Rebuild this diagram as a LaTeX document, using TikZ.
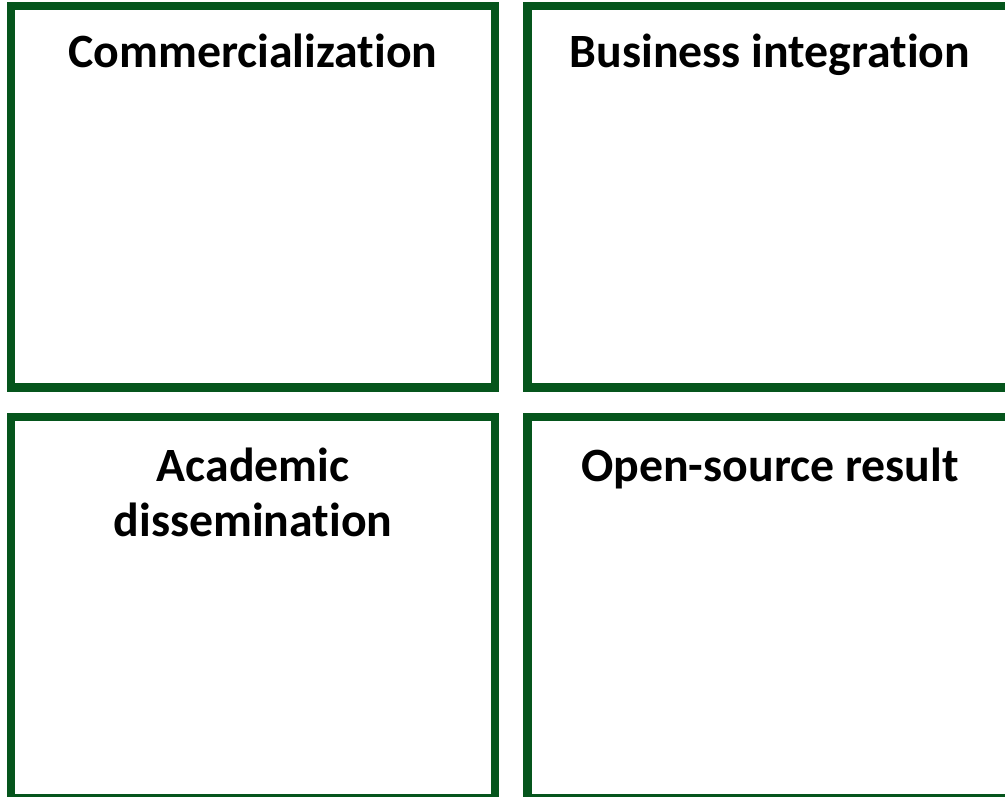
\documentclass[tikz,border=0pt]{standalone}
\usepackage{fontspec}
\setmainfont{Carlito}[Ligatures=NoCommon]
\definecolor{boxgreen}{RGB}{5,85,28}
\begin{document}
\begin{tikzpicture}[x=1pt,y=-1pt,
  panel/.style={draw=boxgreen, line width=8.3pt, fill=none, rectangle, inner sep=0pt, outer sep=0pt},
  title/.style={anchor=base, inner sep=0pt, font=\fontsize{47.8}{55}\selectfont\bfseries, align=center}]
\useasboundingbox (0,0) rectangle (1005,797);
\fill[white] (0,0) rectangle (1005,797);
\clip (0,0) rectangle (1005,797);
\node[panel, minimum width=483.7pt, minimum height=381.2pt] (tl) at (253.15,196.9) {};
\node[panel, minimum width=484.5pt, minimum height=381.2pt] (tr) at (769.75,196.9) {};
\node[panel, minimum width=483.7pt, minimum height=381.3pt] (bl) at (253.15,607.35) {};
\node[panel, minimum width=484.5pt, minimum height=381.3pt] (br) at (769.75,607.35) {};
\node[title] (t1) at (253,68) {Commercialization};
\node[title] (t2) at (770,68) {Business integration};
\node[title] (t3) at (253,536) {Academic\\dissemination};
\node[title] (t4) at (770,481) {Open-source result};
\end{tikzpicture}
\end{document}
